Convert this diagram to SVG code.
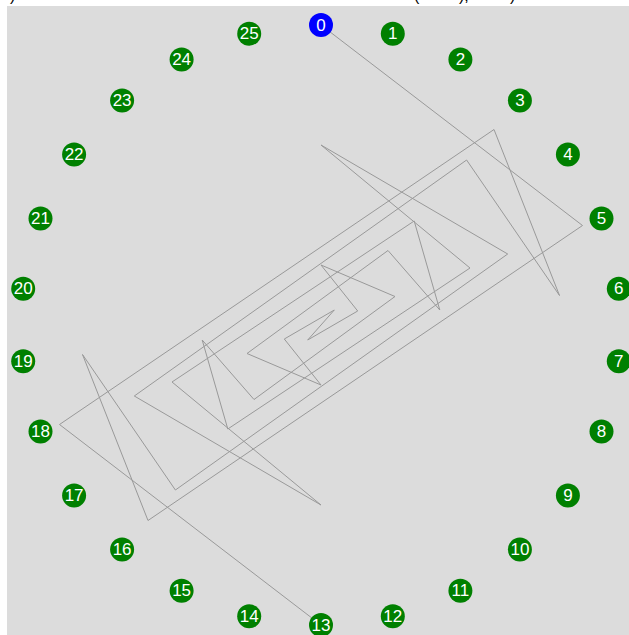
<svg xmlns="http://www.w3.org/2000/svg" width="629" height="635" viewBox="0 0 629 635">
<style>
.n circle{fill:#008000}
.n text{fill:#fff;font-family:"Liberation Sans",Arial,sans-serif;font-size:17px;text-anchor:middle;dominant-baseline:central}
.edge{fill:none;stroke:#999;stroke-width:1}
.top{font-family:"Liberation Sans",Arial,sans-serif;font-size:16px;fill:#000}
</style>
<rect width="629" height="635" fill="#fff"/>
<rect x="7" y="6" width="622" height="629" fill="#dcdcdc"/>
<g id="title-fragments">
<text class="top" x="10" y="1">)</text>
<text class="top" x="414" y="1">(</text>
<text class="top" x="459" y="1">),</text>
<text class="top" x="510" y="1">)</text>
</g>
<g id="connectors">
<polyline class="edge" points="321,25 582.5,225.5 148,520.5 82.5,354.5 175.4,490 507.7,254 321,145 470,268 227.8,429 202.2,340 254,399.5 395,296.5 321,265 357.7,311 307.7,340 334.3,310 284.3,339 321,385 247,353.5 388,250.5 439.8,310 414.2,221 172,382 321,505 134.3,396 466.6,160 559.5,295.5 494,129.5 59.5,424.5 321,625"/>
</g>
<g id="node0" class="n"><circle cx="321" cy="25" r="12" style="fill:#0000ff"/><text x="321" y="25">0</text></g>
<g id="node1" class="n"><circle cx="392.8" cy="33.7" r="12"/><text x="392.8" y="33.7">1</text></g>
<g id="node2" class="n"><circle cx="460.4" cy="59.4" r="12"/><text x="460.4" y="59.4">2</text></g>
<g id="node3" class="n"><circle cx="519.9" cy="100.4" r="12"/><text x="519.9" y="100.4">3</text></g>
<g id="node4" class="n"><circle cx="567.9" cy="154.6" r="12"/><text x="567.9" y="154.6">4</text></g>
<g id="node5" class="n"><circle cx="601.5" cy="218.6" r="12"/><text x="601.5" y="218.6">5</text></g>
<g id="node6" class="n"><circle cx="618.8" cy="288.8" r="12"/><text x="618.8" y="288.8">6</text></g>
<g id="node7" class="n"><circle cx="618.8" cy="361.2" r="12"/><text x="618.8" y="361.2">7</text></g>
<g id="node8" class="n"><circle cx="601.5" cy="431.4" r="12"/><text x="601.5" y="431.4">8</text></g>
<g id="node9" class="n"><circle cx="567.9" cy="495.4" r="12"/><text x="567.9" y="495.4">9</text></g>
<g id="node10" class="n"><circle cx="519.9" cy="549.6" r="12"/><text x="519.9" y="549.6">10</text></g>
<g id="node11" class="n"><circle cx="460.4" cy="590.7" r="12"/><text x="460.4" y="590.7">11</text></g>
<g id="node12" class="n"><circle cx="392.8" cy="616.3" r="12"/><text x="392.8" y="616.3">12</text></g>
<g id="node13" class="n"><circle cx="321" cy="625" r="12"/><text x="321" y="625">13</text></g>
<g id="node14" class="n"><circle cx="249.2" cy="616.3" r="12"/><text x="249.2" y="616.3">14</text></g>
<g id="node15" class="n"><circle cx="181.6" cy="590.7" r="12"/><text x="181.6" y="590.7">15</text></g>
<g id="node16" class="n"><circle cx="122.1" cy="549.6" r="12"/><text x="122.1" y="549.6">16</text></g>
<g id="node17" class="n"><circle cx="74.1" cy="495.4" r="12"/><text x="74.1" y="495.4">17</text></g>
<g id="node18" class="n"><circle cx="40.5" cy="431.4" r="12"/><text x="40.5" y="431.4">18</text></g>
<g id="node19" class="n"><circle cx="23.2" cy="361.2" r="12"/><text x="23.2" y="361.2">19</text></g>
<g id="node20" class="n"><circle cx="23.2" cy="288.8" r="12"/><text x="23.2" y="288.8">20</text></g>
<g id="node21" class="n"><circle cx="40.5" cy="218.6" r="12"/><text x="40.5" y="218.6">21</text></g>
<g id="node22" class="n"><circle cx="74.1" cy="154.6" r="12"/><text x="74.1" y="154.6">22</text></g>
<g id="node23" class="n"><circle cx="122.1" cy="100.4" r="12"/><text x="122.1" y="100.4">23</text></g>
<g id="node24" class="n"><circle cx="181.6" cy="59.4" r="12"/><text x="181.6" y="59.4">24</text></g>
<g id="node25" class="n"><circle cx="249.2" cy="33.7" r="12"/><text x="249.2" y="33.7">25</text></g>
</svg>
